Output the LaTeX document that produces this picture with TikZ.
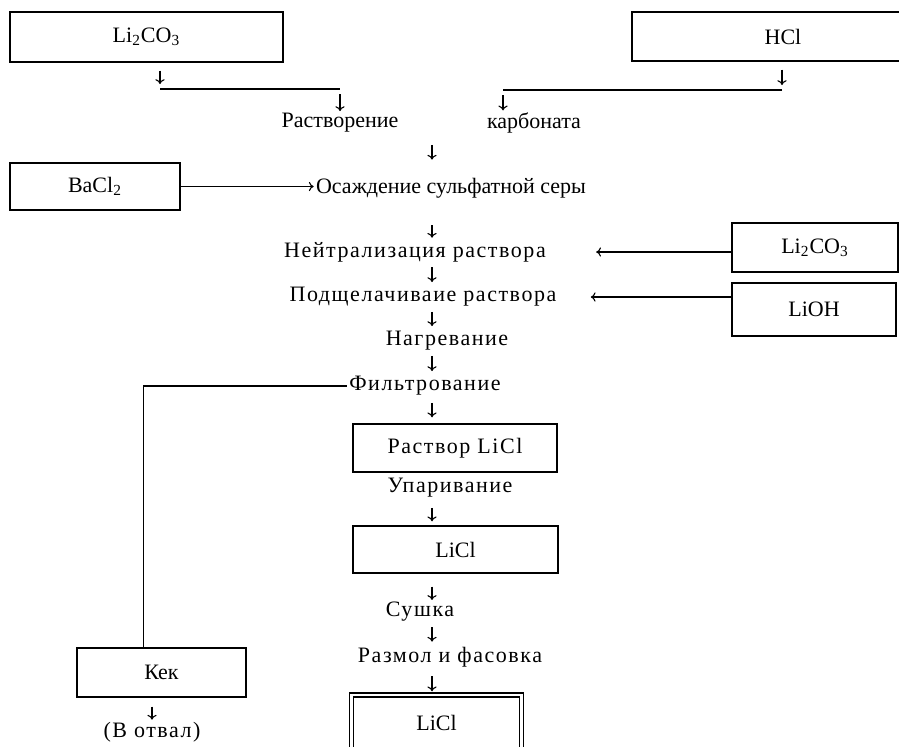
\documentclass[tikz,border=0pt]{standalone}
\usepackage{fontspec}
\setmainfont{Liberation Serif}
\newfontfamily\spacedfont{Liberation Serif}[LetterSpace=7]
\usetikzlibrary{arrows.meta}

\begin{document}
\begin{tikzpicture}[x=0.5pt,y=-0.5pt]
	\tikzstyle{every node}=[font=\fontsize{11}{13}\selectfont, inner sep=1pt]
	\tikzstyle{spaced}=[font={\spacedfont\fontsize{11}{13}\selectfont}]
	\tikzstyle{box}=[draw, line width=0.7pt]
	\tikzstyle{flow}=[-{To[length=2.4pt,width=4.6pt]}, line width=0.55pt]
	\tikzstyle{feed}=[line width=0.7pt]
	
	\clip (0,0) rectangle (899,746);
	\coordinate (axis) at (432,0);
	
	% reagents
	\node[box, minimum width=136.5pt, minimum height=25pt] (li1) at (146.5,37) {Li\textsubscript{2}CO\textsubscript{3}};
	\node[box, minimum width=151pt, minimum height=24.5pt] (hcl) at (783,36.5) {HCl};
	\node[box, minimum width=85pt, minimum height=23.5pt] (bacl) at (95,186.5) {BaCl\textsubscript{2}};
	\node[box, minimum width=83pt, minimum height=24.5pt] (li2) at (815,247.5) {Li\textsubscript{2}CO\textsubscript{3}};
	\node[box, minimum width=82pt, minimum height=26.5pt] (lioh) at (814,309.5) {LiOH};
	
	% main line
	\node (rastv) at (340,123) {Растворение};
	\node (karb) at (534,123) {карбоната};
	\node (osazh) at (451,188) {Осаждение сульфатной серы};
	\node[spaced] (neut) at (415,252) {Нейтрализация раствора};
	\node[spaced] (alk) at (423,297) {Подщелачиваие раствора};
	\node[spaced] (heat) at (447,341) {Нагревание};
	\node[spaced] (filt) at (425,386) {Фильтрование};
	\node[box, spaced, minimum width=102pt, minimum height=24pt] (sol) at (455,448) {Раствор LiCl};
	\node[spaced] (evap) at (450,488) {Упаривание};
	\node[box, minimum width=102.5pt, minimum height=23.5pt] (licl) at (455.5,549.5) {LiCl};
	\node[spaced] (dry) at (420,612) {Сушка};
	\node[spaced] (mill) at (450,657) {Размол и фасовка};
	\node[box, double, double distance=1.3pt, minimum width=85pt, minimum height=27.5pt] (prod) at (436.5,722.5) {LiCl};
	
	% residue
	\node[box, minimum width=84.5pt, minimum height=24.5pt] (kek) at (161.5,672.5) {Кек};
	\node[spaced] (otval) at (152,732) {(В отвал)};
	
	% joining the two feeds
	\coordinate (j1) at (160,89);
	\coordinate (j2) at (782,90);
	\coordinate (j3) at (503,90);
	\draw[flow, shorten <=4pt, shorten >=2.5pt] (li1.south -| j1) -- (j1);
	\draw[feed] (j1) -- (j1 -| rastv.north);
	\draw[flow, shorten <=2.5pt] (j1 -| rastv.north) -- (rastv.north);
	\draw[flow, shorten <=4pt, shorten >=2.5pt] (hcl.south -| j2) -- (j2);
	\draw[feed] (j2) -- (j3);
	\draw[flow, shorten <=2.5pt] (j3) -- (karb.north -| j3);
	
	\draw[flow, shorten <=5pt, shorten >=8pt] (rastv.south -| axis) -- (osazh.north -| axis);
	\draw[flow] (bacl.east) -- (bacl.east -| osazh.west);
	\draw[flow, shorten <=12.5pt, shorten >=1pt] (osazh.south -| axis) -- (neut.north -| axis);
	\draw[flow, shorten >=24pt] (neut.east -| li2.west) -- (neut.east);
	\draw[flow, shorten <=1.5pt, shorten >=1.5pt] (neut.south -| axis) -- (alk.north -| axis);
	\draw[flow, shorten >=16pt] (alk.east -| lioh.west) -- (alk.east);
	\draw[flow, shorten <=1.5pt, shorten >=1.5pt] (alk.south -| axis) -- (heat.north -| axis);
	\draw[flow, shorten <=1.5pt, shorten >=1.5pt] (heat.south -| axis) -- (filt.north -| axis);
	\draw[flow, shorten <=2.5pt, shorten >=3pt] (filt.south -| axis) -- (sol.north -| axis);
	\draw[flow, shorten <=4pt, shorten >=2pt] (evap.south -| axis) -- (licl.north -| axis);
	\draw[flow, shorten <=6.5pt] (licl.south -| axis) -- (dry.north -| axis);
	\draw[flow, shorten <=1.5pt, shorten >=1.5pt] (dry.south -| axis) -- (mill.north -| axis);
	\draw[flow, shorten <=3.5pt, shorten >=1.5pt] (mill.south -| axis) -- (prod.north -| axis);
	
	% cake goes off to the left
	\draw[feed] (filt.west) -| ([xshift=-9pt]kek.north);
	\draw[flow, shorten <=4.5pt] (kek.south -| otval) -- (otval.north);
	
\end{tikzpicture}
\end{document}
